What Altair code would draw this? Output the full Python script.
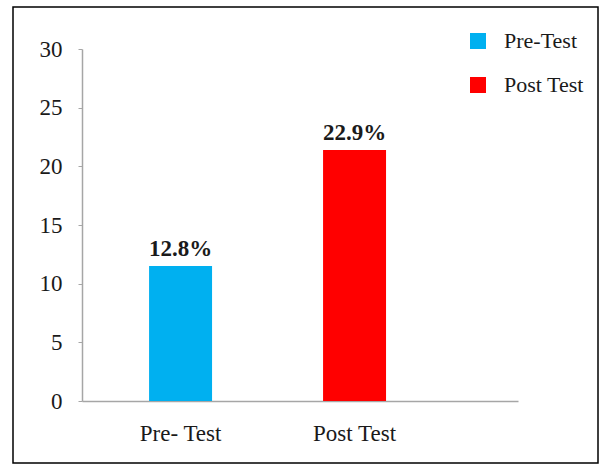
import altair as alt
import pandas as pd

categories = ["Pre- Test", "Post Test"]
legend_names = ["Pre-Test", "Post Test"]
values = [11.5, 21.4]
labels = ["12.8%", "22.9%"]
colors = ["#00B0F0", "#FF0000"]

df = pd.DataFrame({"cat": categories, "series": legend_names, "value": values, "label": labels})

FONT = "'Liberation Serif', 'Times New Roman', serif"
W, H = 436, 352

x_enc = alt.X("cat:N", sort=categories, title=None,
              scale=alt.Scale(paddingInner=0.638, paddingOuter=0.572, align=0.337),
              axis=alt.Axis(labelAngle=0, labelFontSize=23, labelFont=FONT, labelColor="#1a1a1a",
                            ticks=False, domainColor="#a6a6a6", domainWidth=1.5, labelPadding=21))
y_enc = alt.Y("value:Q", title=None,
              scale=alt.Scale(domain=[0, 30], nice=False),
              axis=alt.Axis(values=[0, 5, 10, 15, 20, 25, 30], grid=False, labelFontSize=23,
                            labelFont=FONT, labelColor="#1a1a1a", domainColor="#a6a6a6",
                            domainWidth=1.5, tickColor="#a6a6a6", tickSize=4, labelPadding=16))

bars = alt.Chart(df).mark_bar().encode(
    x=x_enc, y=y_enc,
    color=alt.Color("series:N", sort=legend_names,
                    scale=alt.Scale(domain=legend_names, range=colors),
                    legend=alt.Legend(title=None, orient="none", legendX=385, legendY=-19,
                                      symbolType="square", symbolSize=256, symbolStrokeWidth=0,
                                      labelFontSize=22, labelFont=FONT, labelColor="#1a1a1a",
                                      labelOffset=15, rowPadding=22, padding=0)),
)

text = alt.Chart(df).mark_text(baseline="alphabetic", dy=-10, fontSize=23, fontWeight="bold",
                               font=FONT, color="#1a1a1a").encode(
    x=alt.X("cat:N", sort=categories), y="value:Q", text="label:N")

frame = alt.Chart(pd.DataFrame({"a": [0]})).mark_rect(
    fill=None, stroke="#000", strokeWidth=1.5).encode(
    x=alt.value(-69), x2=alt.value(516), y=alt.value(-42), y2=alt.value(414))

chart = alt.layer(bars, text, frame).properties(
    width=W, height=H,
    background="white",
    autosize=alt.AutoSizeParams(type="none"),
    padding={"left": 82, "top": 49, "right": 83, "bottom": 63},
).configure_view(stroke=None, strokeWidth=0)

chart.save("out.html", embed_options={"renderer": "svg", "actions": False})
